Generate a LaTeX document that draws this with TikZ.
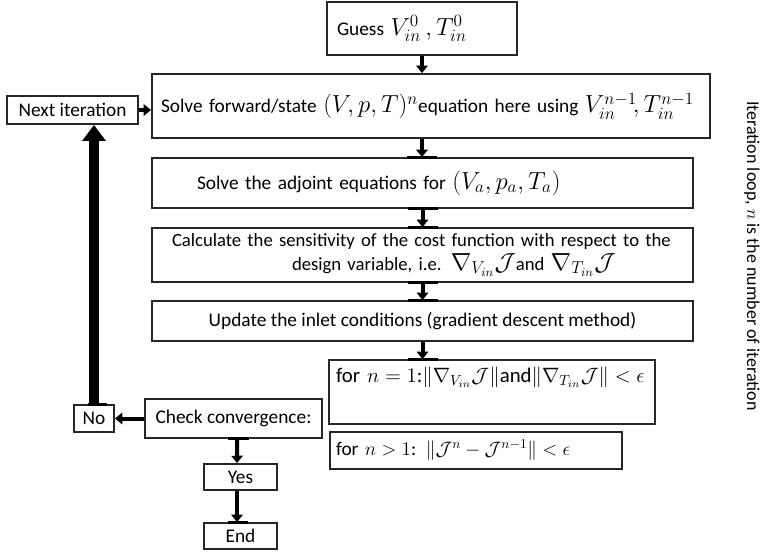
\RequirePackage{fix-cm}
\documentclass[tikz,border=0pt]{standalone}
\usepackage[no-math]{fontspec}
\setmainfont{Carlito}
\usetikzlibrary{arrows.meta}

% larger math inside the running text of the boxes
\newcommand{\bigmath}[1]{{\fontsize{18.5}{20}\selectfont$#1$}}

\tikzset{
	box/.style   = {draw=black!85, line width=1.4pt, inner sep=0pt, align=center},
	flow/.style  = {-{Triangle[width=8.5pt,length=5.5pt]}, line width=3pt},
	loop/.style  = {-{Triangle[width=17pt,length=12pt]}, line width=7.5pt},
	bar/.style   = {line width=2.3pt}
}

\begin{document}
\begin{tikzpicture}[x=0.75pt, y=-0.75pt, font=\fontsize{14.5}{17}\selectfont]
	\useasboundingbox (0,0) rectangle (762,554);

	% main column
	\node (guess)   at (422,  28.5) [box, text width=142.5pt, minimum height=39.75pt, align=left]
		{\hspace*{7.5pt}Guess \bigmath{V_{in}^{0}\,,T_{in}^{0}}};
	\node (solve)   at (431, 106)   [box, text width=418.5pt, minimum height=48pt, align=left]
		{\hspace*{6.75pt}Solve forward/state \bigmath{(V,p,T)^{n}}equation here using \bigmath{V_{in}^{n-1}\!,T_{in}^{n-1}}};
	\node (adjoint) at (422.5, 183) [box, text width=405.75pt, minimum height=37.5pt, align=left]
		{\hspace*{33.75pt}Solve the adjoint equations for \bigmath{(V_{a},p_{a},T_{a})}};
	\node (calc)    at (422.5, 255) [box, text width=405.75pt, minimum height=40.5pt, align=left,
		font=\fontsize{14}{17.5}\selectfont]
		{\hspace*{15pt}Calculate the sensitivity of the cost function with respect to the\\
		 \hspace*{105pt}design variable, i.e. \bigmath{\nabla_{V_{in}}\mathcal{J}}and \bigmath{\nabla_{T_{in}}\mathcal{J}}};
	\node (update)  at (422.5, 321) [box, minimum width=405.75pt, minimum height=30pt]
		{Update the inlet conditions (gradient descent method)};

	% convergence criteria
	\node (cond1) at (492, 392)   [box, text width=244.5pt, text height=17pt, text depth=31pt, align=left,
		font=\fontsize{15.6}{18}\selectfont]
		{\hspace*{5.25pt}for $n=1$:$\|\nabla_{V_{in}}\mathcal{J}\|$and$\|\nabla_{T_{in}}\mathcal{J}\|<\epsilon$};
	\node (cond2) at (476, 450.5) [box, text width=219pt, minimum height=27.75pt, align=left]
		{\hspace*{4.5pt}for $n>1$: $\|\mathcal{J}^{n}-\mathcal{J}^{n-1}\|<\epsilon$};

	% decision branch
	\node (check) at (233.5, 418.5) [box, minimum width=132.75pt, minimum height=29.25pt] {Check convergence:};
	\node (no)    at (94, 418.5)    [box, minimum width=30pt, minimum height=20.25pt] {No};
	\node (yes)   at (240.5, 477)   [box, minimum width=54.75pt, minimum height=19.5pt] {Yes};
	\node (end)   at (240.5, 536)   [box, minimum width=54.75pt, minimum height=19.5pt] {End};
	\node (next)  at (72.5, 110)    [box, minimum width=98.25pt, minimum height=21pt] {Next iteration};

	\node (looplabel) at (752, 256) [rotate=-90, font=\fontsize{13.5}{16}\selectfont]
		{Iteration loop, $n$ is the number of iteration};

	% arrows
	\draw[flow] (guess.south) -- (guess.south |- solve.north);
	\draw[flow] (guess.south |- solve.south) -- (guess.south |- adjoint.north);
	\draw[flow] (adjoint.south) -- (calc.north);
	\draw[flow] (calc.south) -- (update.north);
	\draw[flow] (update.south) -- (update.south |- cond1.north);
	\draw[flow] (check.south -| yes.north) ++(-3.5,0) -- ([xshift=-2.6pt]yes.north);
	\draw[flow] ([xshift=-2.6pt]yes.south) -- ([xshift=-2.6pt]end.north);
	\draw[flow] (check.west) -- (no.east);
	\draw[flow] (next.east) -- (next.east -| solve.west);
	\draw[loop] (no.north) -- (no.north |- next.south);

	% thick edge marks where the arrows meet the boxes
	\draw[bar] (guess.south |- adjoint.north) ++(-15,0) -- ++(30,0);
	\draw[bar] (adjoint.south) ++(-15,0) -- ++(30,0);
	\draw[bar] (calc.north) ++(-15,0) -- ++(30,0);
	\draw[bar] (calc.south) ++(-15,0) -- ++(30,0);
	\draw[bar] (update.north) ++(-15,0) -- ++(30,0);
	\draw[bar] (update.south |- cond1.north) ++(-15,0) -- ++(30,0);
	\draw[bar] (check.south) ++(-6,0) -- ++(21,0);
	\draw[bar] (end.north) ++(-13,0) -- ++(20,0);
	\draw[bar] (no.north) ++(-6,0) -- ++(19,0);
\end{tikzpicture}
\end{document}
